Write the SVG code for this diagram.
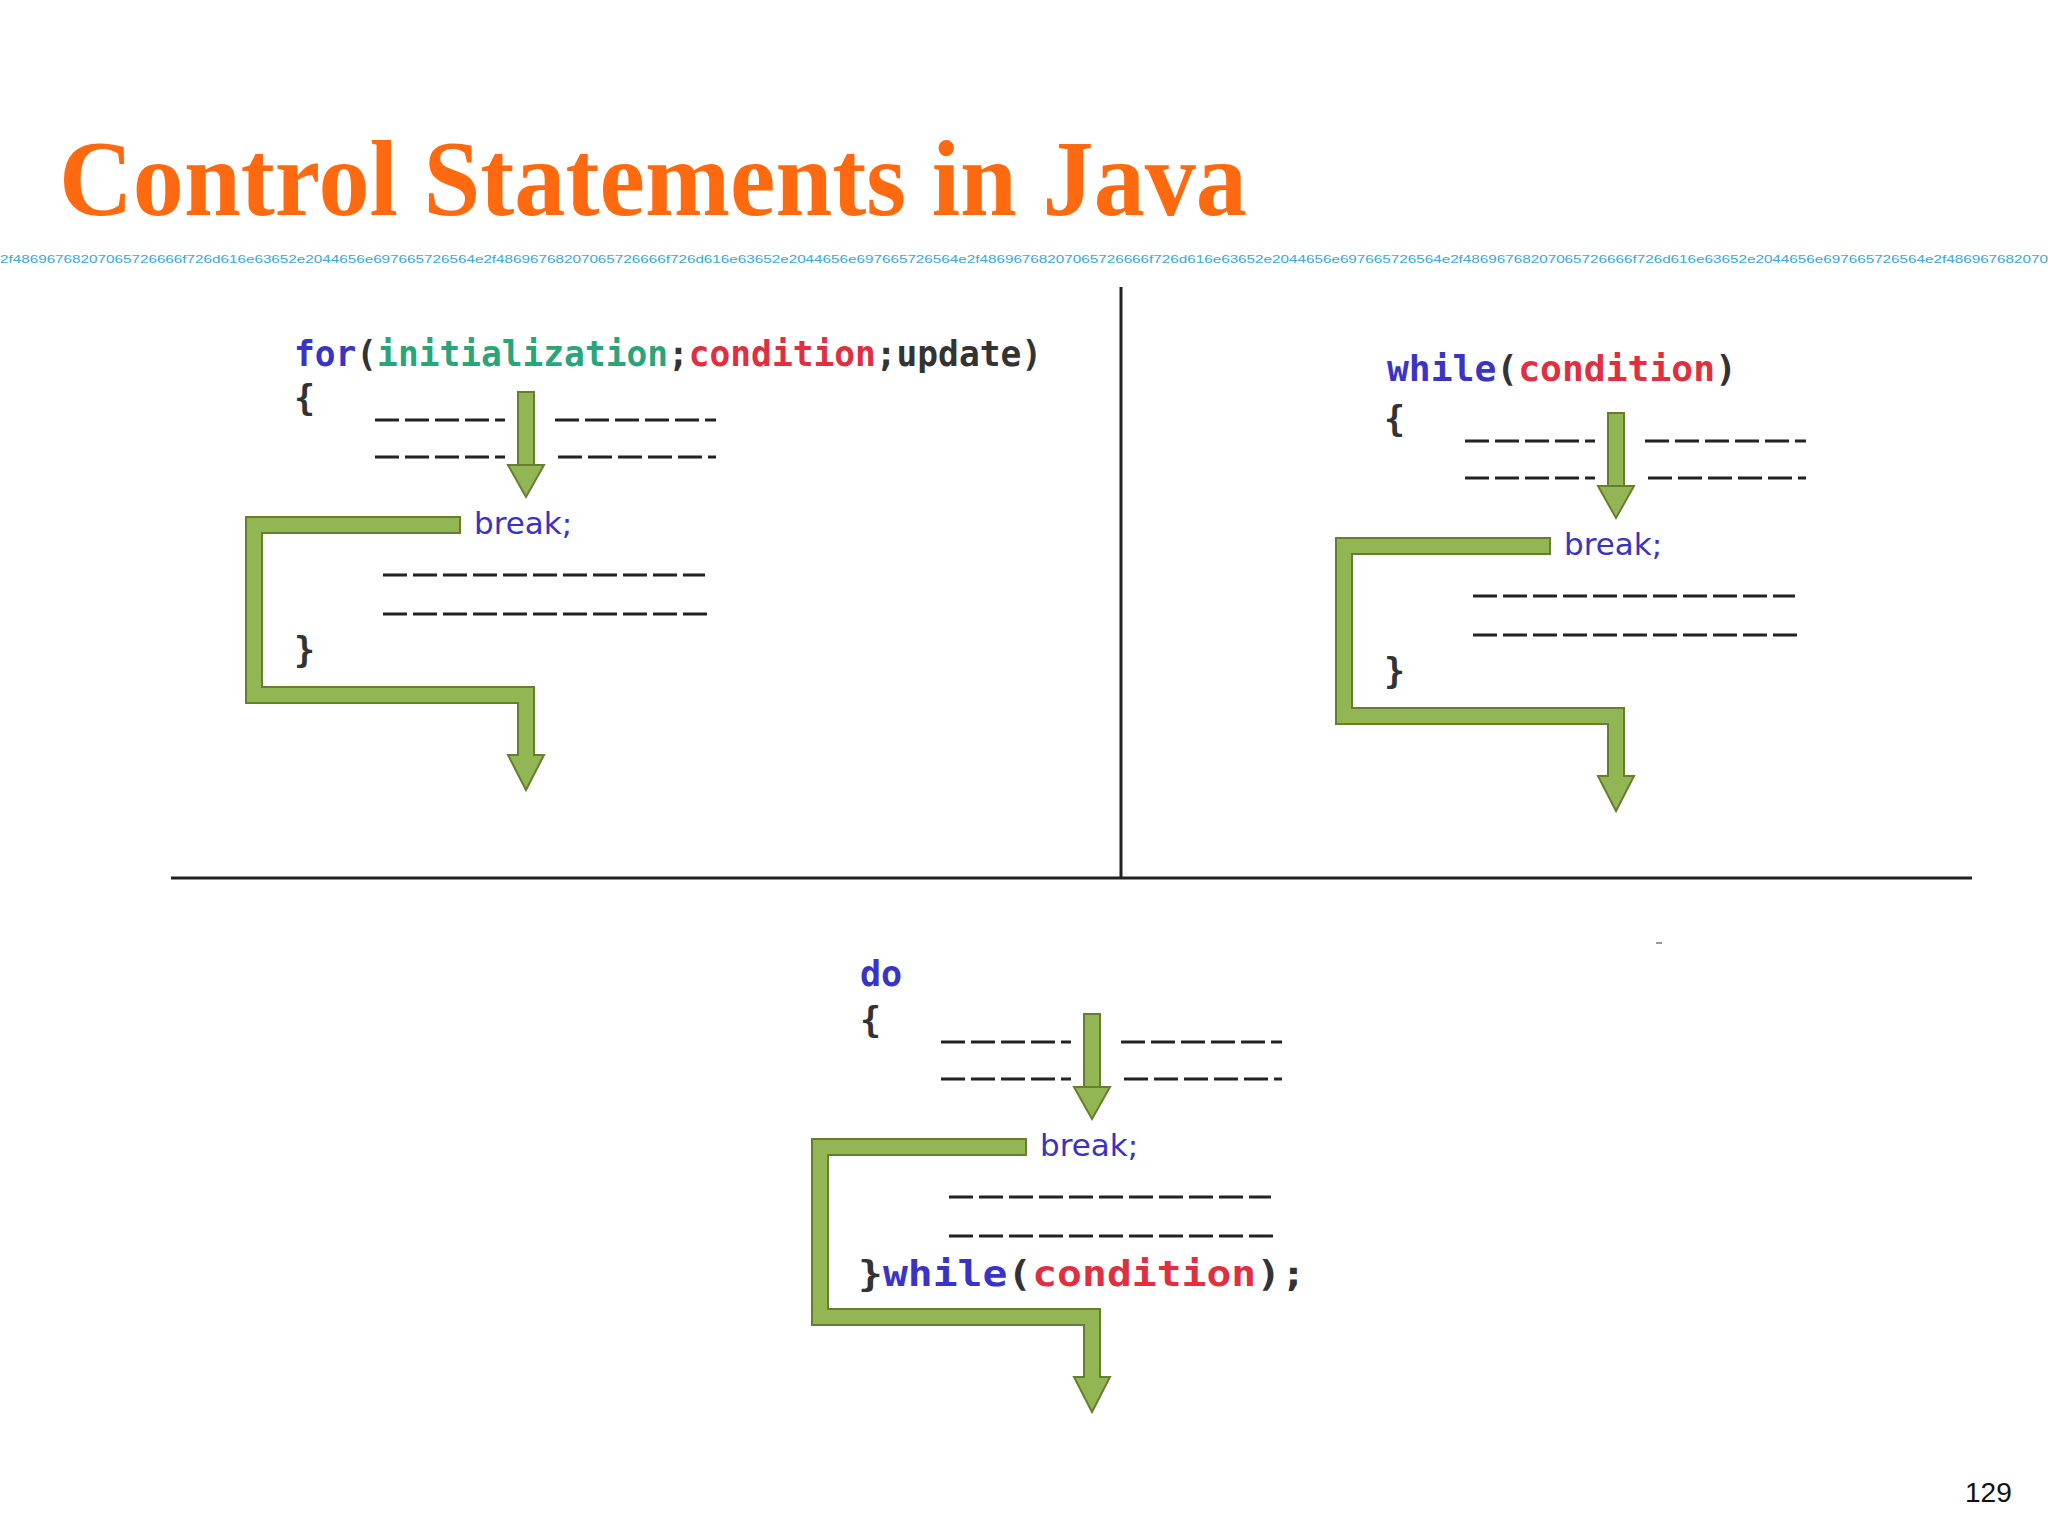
<svg xmlns="http://www.w3.org/2000/svg" width="2048" height="1536" viewBox="0 0 2048 1536">
<style>
.code{font-family:"DejaVu Sans Mono","Liberation Mono",monospace;font-size:35px;font-weight:bold}
.kw{fill:#3a33c8}.gr{fill:#2aa57a}.rd{fill:#e0303f}.dk{fill:#333}
.brk{font-family:"DejaVu Sans",sans-serif;font-size:31px;fill:#3a33c0}
.dash{stroke:#222;stroke-width:3;stroke-dasharray:24 6}
.flow{fill:#93b654;stroke:#667f2e;stroke-width:2}
.rule{stroke:#222;stroke-width:3}
</style>
<defs>
<g id="flowArrows">
<rect class="flow" x="518" y="392" width="16" height="76"/>
<polygon class="flow" points="508,465 544,465 526,497"/>
<polygon class="flow" points="460,517 246,517 246,703 518,703 518,755 508,755 526,790 544,755 534,755 534,687 262,687 262,533 460,533"/>
</g>
<g id="dashes">
<line class="dash" x1="375" y1="420" x2="505" y2="420"/>
<line class="dash" x1="555" y1="420" x2="716" y2="420"/>
<line class="dash" x1="375" y1="457" x2="505" y2="457"/>
<line class="dash" x1="558" y1="457" x2="716" y2="457"/>
<line class="dash" x1="383" y1="575" x2="705" y2="575"/>
<line class="dash" x1="383" y1="614" x2="707" y2="614"/>
</g>
</defs>
<rect width="2048" height="1536" fill="#fff"/>
<text x="59" y="215" font-family="Liberation Serif,serif" font-weight="bold" font-size="108" fill="#ff6a10" textLength="1188" lengthAdjust="spacingAndGlyphs">Control Statements in Java</text>
<text x="0" y="263" font-family="Liberation Sans,sans-serif" font-size="11" fill="#3aa8d8" textLength="2048" lengthAdjust="spacingAndGlyphs">2f48696768207065726666f726d616e63652e2044656e697665726564e2f48696768207065726666f726d616e63652e2044656e697665726564e2f48696768207065726666f726d616e63652e2044656e697665726564e2f48696768207065726666f726d616e63652e2044656e697665726564e2f486967682070</text>
<g id="connectors">
<line class="rule" x1="1121" y1="287" x2="1121" y2="877"/>
<line class="rule" x1="171" y1="878" x2="1972" y2="878"/>
<line x1="1656" y1="943" x2="1662" y2="943" stroke="#999" stroke-width="2"/>
</g>
<g id="for-panel">
<text class="code" x="294" y="366" textLength="748" lengthAdjust="spacingAndGlyphs"><tspan class="kw">for</tspan><tspan class="dk">(</tspan><tspan class="gr">initialization</tspan><tspan class="dk">;</tspan><tspan class="rd">condition</tspan><tspan class="dk">;update)</tspan></text>
<text class="code dk" x="294" y="410">{</text>
<use href="#dashes"/>
<use href="#flowArrows"/>
<text class="brk" x="474" y="534">break;</text>
<text class="code dk" x="294" y="662">}</text>
</g>
<g id="while-panel" transform="translate(1090,21)">
<text class="code" x="297" y="360" textLength="350" lengthAdjust="spacingAndGlyphs"><tspan class="kw">while</tspan><tspan class="dk">(</tspan><tspan class="rd">condition</tspan><tspan class="dk">)</tspan></text>
<text class="code dk" x="294" y="410">{</text>
<use href="#dashes"/>
<use href="#flowArrows"/>
<text class="brk" x="474" y="534">break;</text>
<text class="code dk" x="294" y="662">}</text>
</g>
<g id="do-while-panel" transform="translate(566,622)">
<text class="code kw" x="294" y="364">do</text>
<text class="code dk" x="294" y="410">{</text>
<use href="#dashes"/>
<use href="#flowArrows"/>
<text class="brk" x="474" y="534">break;</text>
<text class="code" x="292" y="664" font-size="40" textLength="448" lengthAdjust="spacingAndGlyphs"><tspan class="dk">}</tspan><tspan class="kw">while</tspan><tspan class="dk">(</tspan><tspan class="rd">condition</tspan><tspan class="dk">);</tspan></text>
</g>
<text x="1965" y="1502" font-family="Liberation Sans,sans-serif" font-size="28" fill="#111">129</text>
</svg>
